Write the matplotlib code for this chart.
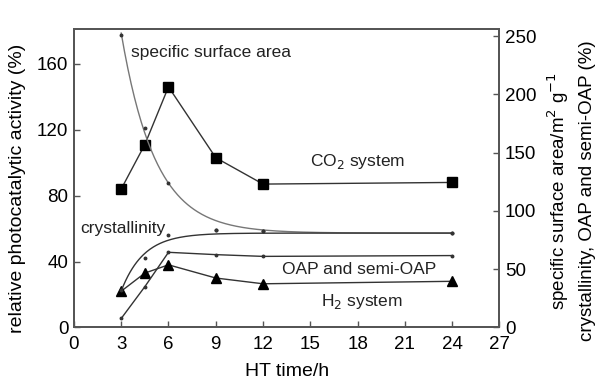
import numpy as np
import matplotlib
matplotlib.use("Agg")
import matplotlib.pyplot as plt

plt.rcParams['font.family'] = ['Liberation Sans', 'DejaVu Sans']

# data
ht_time = [3, 4.5, 6, 9, 12, 24]
co2_activity = [84, 111, 146, 103, 87, 88]
h2_activity = [22, 33, 38, 30, 26.5, 28]
surface_area = [251, 171, 124, 84, 82.5, 81]
crystallinity = [32, 60, 79, 84, 82.5, 81]
oap = [7.7, 35, 64.5, 62.5, 61, 61.7]

xticks = [0, 3, 6, 9, 12, 15, 18, 21, 24, 27]


def exp_fit(x, y):
    """Fit y = c + a*exp(-k x) with plateau c fixed at the last value."""
    x = np.asarray(x, float)
    y = np.asarray(y, float)
    c = y[-1]
    best = None
    for k in np.linspace(0.05, 2.0, 800):
        e = np.exp(-k * x)
        a = np.sum(e * (y - c)) / np.sum(e * e)
        r = np.sum((c + a * e - y) ** 2)
        if best is None or r < best[0]:
            best = (r, k, a)
    _, k, a = best
    return lambda t: c + a * np.exp(-k * t)


fig = plt.figure(figsize=(6.01, 3.79), dpi=100)
ax = fig.add_axes([0.123, 0.136, 0.708, 0.787])
ax2 = ax.twinx()

gray = '#555555'
for a in (ax, ax2):
    for s in a.spines.values():
        s.set_color(gray)
        s.set_linewidth(1.3)

# left axis series
ax.plot(ht_time, co2_activity, color='#333333', lw=1.0, marker='s', ms=6.8,
        mfc='black', mec='black', zorder=5)
ax.plot(ht_time, h2_activity, color='#333333', lw=1.0, marker='^', ms=7.8,
        mfc='black', mec='black', zorder=5)

# right axis series
xs = np.linspace(3, 24, 300)
f_sa = exp_fit(ht_time, surface_area)
f_cr = exp_fit(ht_time, crystallinity)
ax2.plot(xs, f_sa(xs), color='#777777', lw=1.0)
ax2.plot(ht_time, surface_area, ls='none', marker='o', ms=1.8, color='#333333')
ax2.plot(xs, f_cr(xs), color='#333333', lw=1.0)
ax2.plot(ht_time, crystallinity, ls='none', marker='o', ms=1.8, color='#333333')
ax2.plot(ht_time, oap, color='#333333', lw=1.0, marker='o', ms=1.8)

ax.set_xlim(0, 27)
ax.set_ylim(0, 181)
ax2.set_ylim(0, 256)
ax.set_xticks(xticks)
ax.set_yticks([0, 40, 80, 120, 160])
ax2.set_yticks([0, 50, 100, 150, 200, 250])

for a in (ax, ax2):
    a.tick_params(direction='in', length=4, width=1.0, color=gray,
                  labelsize=13.5, pad=4)
ax.tick_params(axis='x', pad=6)

ax.set_xlabel('HT time/h', fontsize=14, labelpad=7)
ax.set_ylabel('relative photocatalytic activity (%)', fontsize=14)
ax.yaxis.set_label_coords(-0.112, 0.465)

fig.text(558 / 601, 1 - 191 / 379, 'specific surface area/m$^2$ g$^{-1}$',
         rotation=90, ha='center', va='center', fontsize=13.5)
fig.text(587 / 601, 1 - 191 / 379, 'crystallinity, OAP and semi-OAP (%)',
         rotation=90, ha='center', va='center', fontsize=13.5)

tk = dict(fontsize=12.5, color='#222222')
ax.text(3.6, 167, 'specific surface area', ha='left', va='center', **tk)
ax.text(18.0, 101, 'CO$_2$ system', ha='center', va='center', **tk)
ax.text(0.4, 60, 'crystallinity', ha='left', va='center', **tk)
ax.text(18.1, 35.3, 'OAP and semi-OAP', ha='center', va='center', **tk)
ax.text(18.3, 15.6, 'H$_2$ system', ha='center', va='center', **tk)

fig.savefig('out.png', dpi=100)
